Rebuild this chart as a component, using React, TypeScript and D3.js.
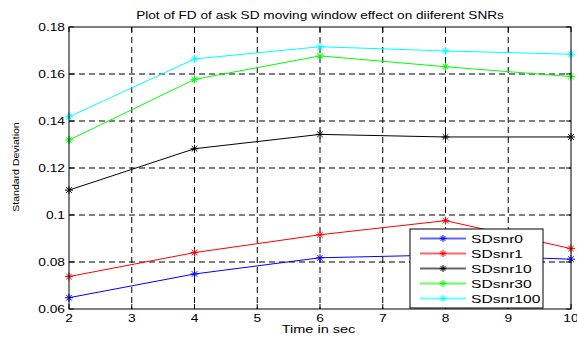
import * as d3 from "d3";

const times = [2, 4, 6, 8, 10];
const snr0 = [0.0648, 0.0749, 0.0818, 0.0830, 0.0812];
const snr1 = [0.0738, 0.084, 0.0916, 0.0976, 0.0857];
const snr10 = [0.1106, 0.1282, 0.1343, 0.1332, 0.1332];
const snr30 = [0.1319, 0.1577, 0.1677, 0.1631, 0.1589];
const snr100 = [0.1418, 0.1664, 0.1716, 0.1698, 0.1684];
const seriesNames = ["SDsnr0", "SDsnr1", "SDsnr10", "SDsnr30", "SDsnr100"];
const seriesColors = ["#0000ff", "#ff0000", "#000000", "#00ff00", "#00ffff"];
const xTicks = [2, 3, 4, 5, 6, 7, 8, 9, 10];
const yTicks = [0.06, 0.08, 0.1, 0.12, 0.14, 0.16, 0.18];

const W = 577;
const H = 339;
const left = 69;
const right = 571;
const top = 27;
const bottom = 309;

function Star({ x, y, color, r = 4 }: { x: number; y: number; color: string; r?: number }) {
  const d = r * 0.7;
  return (
    <g stroke={color} strokeWidth={1}>
      <line x1={x - r} y1={y} x2={x + r} y2={y} />
      <line x1={x} y1={y - r} x2={x} y2={y + r} />
      <line x1={x - d} y1={y - d} x2={x + d} y2={y + d} />
      <line x1={x - d} y1={y + d} x2={x + d} y2={y - d} />
    </g>
  );
}

// matlab-ish text looks wider than Arial, so stretch it horizontally
function T({
  x, y, sx = 1.25, size = 11, anchor = "start", rotate = 0, children,
}: {
  x: number; y: number; sx?: number; size?: number; anchor?: string; rotate?: number; children: any;
}) {
  return (
    <g transform={`translate(${x},${y}) rotate(${rotate}) scale(${sx},1)`}>
      <text x={0} y={0} fontSize={size} textAnchor={anchor as any}>{children}</text>
    </g>
  );
}

export default function App() {
  const x = d3.scaleLinear().domain([2, 10]).range([left, right]);
  const y = d3.scaleLinear().domain([0.06, 0.18]).range([bottom, top]);
  const series = [snr0, snr1, snr10, snr30, snr100];
  const line = d3
    .line<number>()
    .x((_, i) => x(times[i]))
    .y((v) => y(v));

  const font = "Arial, 'Liberation Sans', sans-serif";
  const legX = 410;
  const legY = 229;
  const legW = 133;
  const legH = 79;

  return (
    <svg
      width={W}
      height={H}
      style={{ position: "absolute", left: 0, top: 0, background: "#fff" }}
      fontFamily={font}
    >
      <rect x={0} y={0} width={W} height={H} fill="#fff" />
      {/* grid */}
      {xTicks.slice(1, -1).map((t) => (
        <line key={"gx" + t} x1={x(t)} x2={x(t)} y1={top} y2={bottom} stroke="#000" strokeDasharray="6,4" strokeWidth={1} />
      ))}
      {yTicks.slice(1, -1).map((t) => (
        <line key={"gy" + t} x1={left} x2={right} y1={y(t)} y2={y(t)} stroke="#000" strokeDasharray="6,4" strokeWidth={1} />
      ))}
      {/* ticks */}
      {xTicks.map((t) => (
        <g key={"tx" + t}>
          <line x1={x(t)} x2={x(t)} y1={bottom} y2={bottom - 5} stroke="#000" />
          <line x1={x(t)} x2={x(t)} y1={top} y2={top + 5} stroke="#000" />
          <T x={x(t)} y={bottom + 13} anchor="middle">{t}</T>
        </g>
      ))}
      {yTicks.map((t) => (
        <g key={"ty" + t}>
          <line x1={left} x2={left + 5} y1={y(t)} y2={y(t)} stroke="#000" />
          <line x1={right} x2={right - 5} y1={y(t)} y2={y(t)} stroke="#000" />
          <T x={left - 4} y={y(t) + 4} anchor="end">{String(t)}</T>
        </g>
      ))}
      {/* series */}
      {series.map((s, si) => (
        <g key={seriesNames[si]}>
          <path d={line(s) ?? undefined} fill="none" stroke={seriesColors[si]} strokeWidth={1} />
          {s.map((v, i) => (
            <Star key={i} x={x(times[i])} y={y(v)} color={seriesColors[si]} />
          ))}
        </g>
      ))}
      {/* box */}
      <rect x={left} y={top} width={right - left} height={bottom - top} fill="none" stroke="#000" strokeWidth={1} />
      {/* labels */}
      <T x={(left + right) / 2} y={19} sx={1.24} anchor="middle">
        Plot of FD of ask SD moving window effect on diiferent SNRs
      </T>
      <T x={318.5} y={333} sx={1.38} size={10.5} anchor="middle">Time in sec</T>
      <T x={19} y={167} sx={1.17} size={9} rotate={-90} anchor="middle">Standard Deviation</T>
      {/* legend */}
      <rect x={legX} y={legY} width={legW} height={legH} fill="#fff" stroke="#000" strokeWidth={1} />
      {seriesNames.map((n, i) => {
        const ly = legY + 9.5 + i * 15;
        return (
          <g key={"leg" + n}>
            <line x1={legX + 10} x2={legX + 56} y1={ly} y2={ly} stroke={seriesColors[i]} strokeWidth={2} strokeOpacity={0.6} />
            <Star x={legX + 33} y={ly} color={seriesColors[i]} r={3.5} />
            <T x={legX + 61} y={ly + 4} sx={1.42} size={11}>{n}</T>
          </g>
        );
      })}
    </svg>
  );
}
